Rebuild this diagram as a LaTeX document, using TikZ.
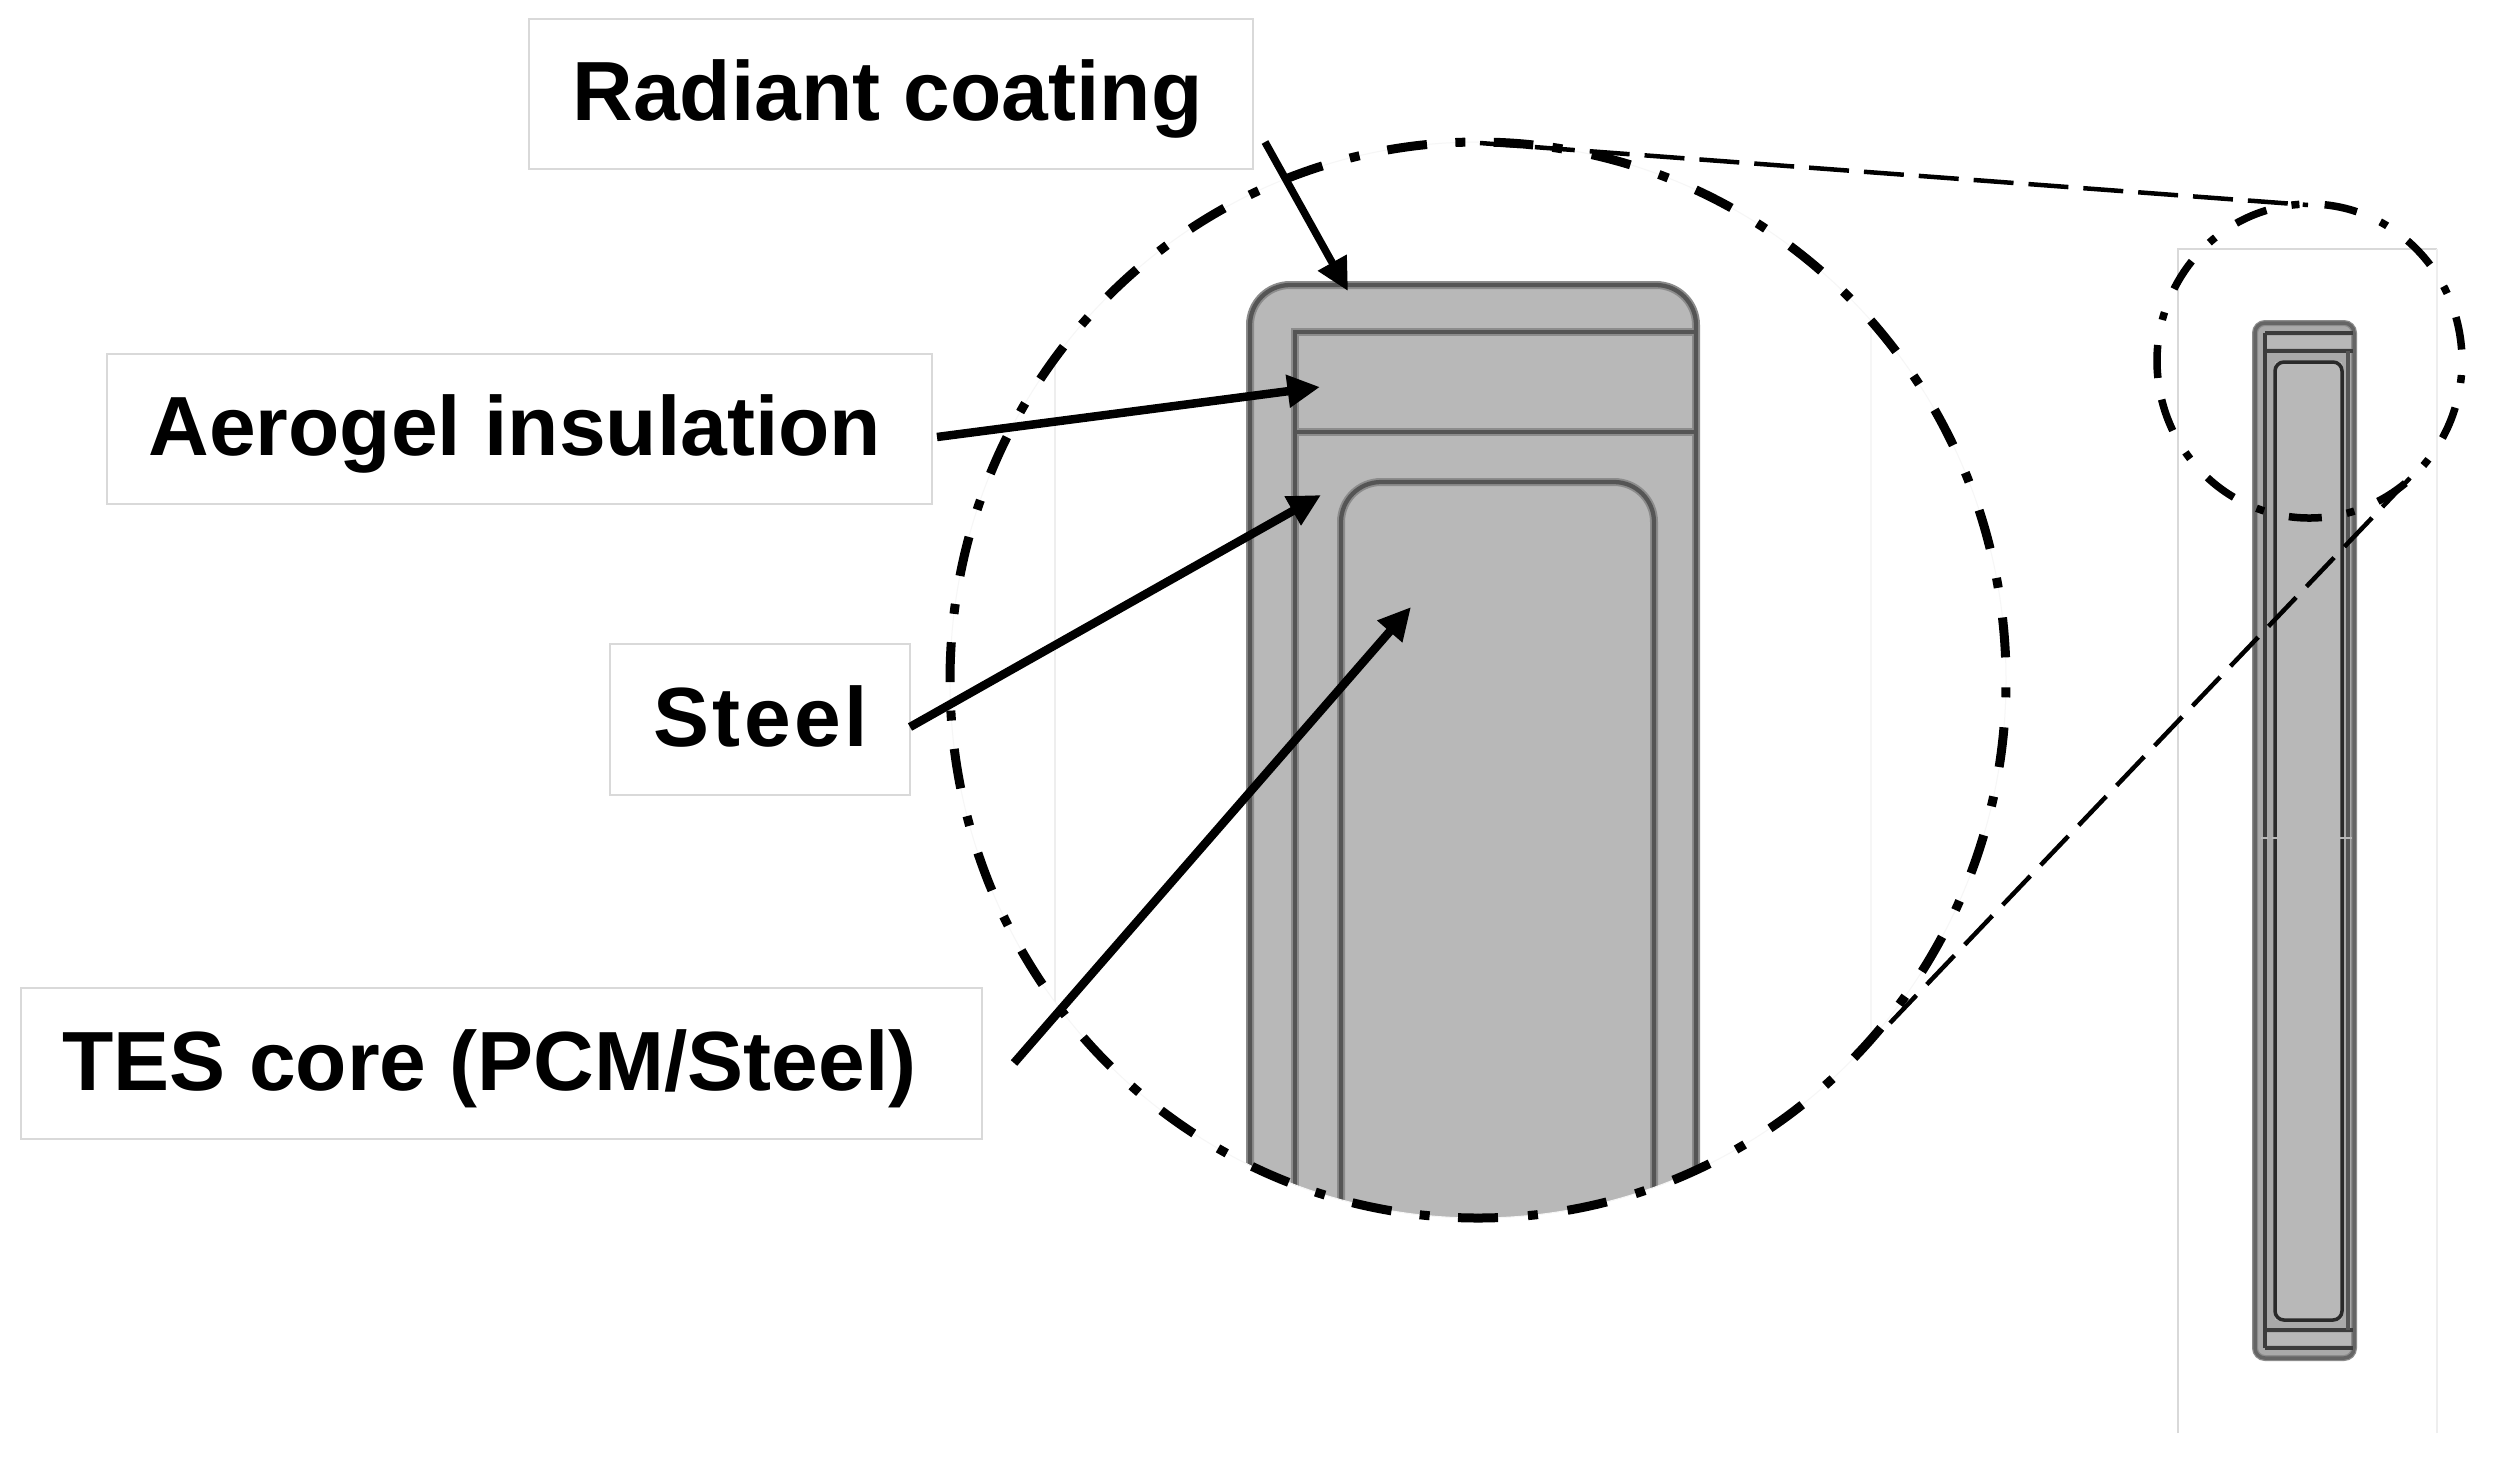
\documentclass[tikz,border=0pt]{standalone}
\usepackage{fontspec}
\setmainfont{Liberation Sans}
\usetikzlibrary{arrows.meta}
\definecolor{bodygray}{HTML}{B8B8B8}
\definecolor{linecore}{HTML}{555555}
\definecolor{linehalo}{HTML}{8C8C8C}
\definecolor{boxedge}{HTML}{D9D9D9}
\definecolor{ghost}{HTML}{EEEEEE}
\definecolor{fainter}{HTML}{F6F6F6}
\tikzset{
  labelbox/.style={draw=boxedge,line width=0.6pt,fill=white,inner sep=0pt,anchor=north west},
  labeltext/.style={inner sep=0pt,anchor=base west,font=\fontsize{33.6}{40}\selectfont\bfseries,text=black},
  pointer/.style={draw=black,line width=#1,-{Triangle[length=13pt,width=12.5pt]}},
  halo/.style={draw=linehalo,line width=3.2pt},
  core/.style={draw=linecore,line width=1.7pt},
  smallhalo/.style={draw=linehalo,line width=2.4pt},
  smallcore/.style={draw=#1,line width=1.4pt},
  bigdash/.style={draw=black,line width=3.6pt},
  leader/.style={draw=black,line width=1.8pt,dash pattern=on 16pt off 6pt},
  framerule/.style={draw=boxedge,line width=0.6pt},
  ghostrule/.style={draw=ghost,line width=0.5pt}
}
\begin{document}
\begin{tikzpicture}[x=0.4pt,y=-0.4pt]
\useasboundingbox (0,0) rectangle (2495,1462);
\fill[white] (0,0) rectangle (2495,1462);

% thin frame of the small picture
\draw[framerule] (2178,1433) -- (2178,249) -- (2437,249);
\draw[framerule,draw=ghost] (2437,249) -- (2437,1433);

% small strip
\fill[bodygray!92!black,rounded corners=4pt] (2255,323) rectangle (2354,1358);
\fill[bodygray] (2275,362) rectangle (2342,1320);
\draw[smallhalo,rounded corners=4pt] (2255,323) rectangle (2354,1358);
\draw[smallcore=linecore!70!linehalo,rounded corners=4pt] (2255,323) rectangle (2354,1358);
\fill[bodygray] (2265,336) rectangle (2351,348);
\fill[bodygray] (2265,1333) rectangle (2351,1345);
\draw[smallcore=linecore!70!black] (2265,333) -- (2265,1348);
\draw[smallcore=linecore!70!black] (2265,333) -- (2353,333);
\draw[smallcore=linecore!70!black] (2265,351) -- (2353,351);
\draw[smallcore=linecore!70!black] (2265,1330) -- (2353,1330);
\draw[smallcore=linecore!70!black] (2265,1348) -- (2353,1348);
\draw[smallcore=linecore!50!black,rounded corners=3.6pt] (2275,362) rectangle (2342,1320);
\draw[smallcore=linecore] (2348,351) -- (2348,1330);
\draw[draw=bodygray,line width=0.7pt] (2261,838) -- (2268,838) (2272,838) -- (2279,838) (2338,838) -- (2352,838);

% magnified body, clipped by the lens
\begin{scope}
\clip (1478,680) ellipse [x radius=528,y radius=538];
\draw[ghostrule] (1055,100) -- (1055,1300);
\draw[draw=fainter,line width=0.5pt] (1871,100) -- (1871,1300);
\path[fill=bodygray] (1250,1300) -- (1250,325) arc[start angle=180,end angle=270,radius=40] -- (1656,285) arc[start angle=270,end angle=360,radius=40] -- (1696,1300) -- cycle;
\foreach \s in {halo,core}{
  \path[\s] (1250,1300) -- (1250,325) arc[start angle=180,end angle=270,radius=40] -- (1656,285) arc[start angle=270,end angle=360,radius=40] -- (1696,1300);
  \path[\s] (1295,1300) -- (1295,332) -- (1696,332);
  \path[\s] (1295,432) -- (1696,432);
  \path[\s] (1341,1300) -- (1341,522) arc[start angle=180,end angle=270,radius=40] -- (1614,482) arc[start angle=270,end angle=360,radius=40] -- (1654,1300);
}
\end{scope}
\draw[draw=fainter,line width=0.4pt] (1478,680) ellipse [x radius=528,y radius=538];

% lens outlines
\draw[bigdash,dash pattern=on 16pt off 11.38pt on 4pt off 11.38pt,dash phase=8pt]
  (1478,1218) arc[start angle=90,end angle=276,x radius=528,y radius=538];
\draw[bigdash,dash pattern=on 16pt off 12pt on 4pt off 12pt,dash phase=8pt]
  (1478,1218) arc[start angle=90,end angle=-83,x radius=528,y radius=538];
\draw[draw=black,line width=3pt,dash pattern=on 13.2pt off 10.2pt on 3.2pt off 10.1pt]
  (2309.5,361) ++(173.8:152.5 and 157) arc[start angle=173.8,end angle=533.8,x radius=152.5,y radius=157];

% zoom leaders
\coordinate (lensTop) at (1480,143);
\coordinate (smallTop) at (2308,205);
\coordinate (lensLow) at (1890,1023);
\coordinate (smallLow) at (2410,478);
\draw[leader] (lensTop) -- (smallTop);
\draw[leader] (smallLow) -- (lensLow);

% labels
\node[labelbox,minimum width=289.6pt,minimum height=60pt] (radBox) at (528,18) {};
\node[labelbox,minimum width=330pt,minimum height=60pt] (aerBox) at (106,353) {};
\node[labelbox,minimum width=120pt,minimum height=60.4pt] (steelBox) at (609,643) {};
\node[labelbox,minimum width=384.4pt,minimum height=60.4pt] (tesBox) at (20,987) {};
\node[labeltext] (radText) at (572,120) {Radiant coating};
\node[labeltext] (aerText) at (148,455) {Aerogel insulation};
\node[labeltext] (steelText) at (653,746) {\addfontfeature{LetterSpace=4}Steel};
\node[labeltext] (tesText) at (62,1090) {TES core (PCM/Steel)};

% pointers
\coordinate (radFrom) at (1265,142);
\coordinate (radTip) at (1348,291);
\coordinate (aerFrom) at (937,437);
\coordinate (aerTip) at (1320,387);
\coordinate (steelFrom) at (910,727);
\coordinate (steelTip) at (1321,495);
\coordinate (tesFrom) at (1014,1063);
\coordinate (tesTip) at (1411,607);
\draw[pointer=3pt] (radFrom) -- (radTip);
\draw[pointer=3.4pt] (aerFrom) -- (aerTip);
\draw[pointer=3.4pt] (steelFrom) -- (steelTip);
\draw[pointer=3.4pt] (tesFrom) -- (tesTip);
\end{tikzpicture}
\end{document}
